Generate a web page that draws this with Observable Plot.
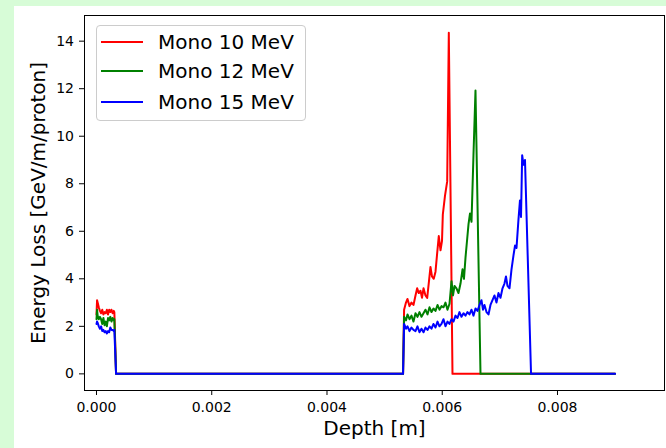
<!DOCTYPE html>
<html><head><meta charset="utf-8">
<script src="https://cdn.jsdelivr.net/npm/d3@7"></script>
<script src="https://cdn.jsdelivr.net/npm/@observablehq/plot@0.6"></script>
<style>
html,body{margin:0;padding:0;background:#d7fcd7;width:666px;height:448px;overflow:hidden;}
#panel{position:absolute;left:14px;top:6px;width:652px;height:442px;background:#fff;}
#chart{position:absolute;left:0;top:0;}
#legend{position:absolute;left:96px;top:25px;width:208px;height:94px;border:1px solid #cccccc;border-radius:4px;background:rgba(255,255,255,0.8);font-family:"DejaVu Sans";font-size:20px;color:#000;}
.row{position:absolute;left:0;height:20px;width:208px;}
.swatch{position:absolute;left:4px;top:9px;width:42px;height:2px;}
.lab{position:absolute;left:61px;top:0;white-space:nowrap;line-height:20px;}
</style></head><body>
<div id="panel"></div><div id="chart"></div><div id="legend"></div>
<script>
const names = ["Mono 10 MeV", "Mono 12 MeV", "Mono 15 MeV"];
const colors = ["#ff0000", "#008000", "#0000ff"];
const xTicks = [0, 0.002, 0.004, 0.006, 0.008];
const yTicks = [0, 2, 4, 6, 8, 10, 12, 14];
const xLabel = "Depth [m]";
const yLabel = "Energy Loss [GeV/m/proton]";

// entrance window region (shared depths)
const entryDepth = [0, 0.00001, 0.00002, 0.00004, 0.00006, 0.00008, 0.0001, 0.00012, 0.00014, 0.00016, 0.00018, 0.0002, 0.00022, 0.00024, 0.00026, 0.00028, 0.0003, 0.00031, 0.00034];
const entry10 = [2.5, 3.1, 3.0, 2.8, 2.65, 2.55, 2.7, 2.5, 2.6, 2.55, 2.7, 2.5, 2.7, 2.6, 2.7, 2.55, 2.65, 2.6, 0];
const entry12 = [2.3, 2.7, 2.45, 2.3, 2.4, 2.3, 2.1, 2.35, 2.05, 2.2, 2.0, 2.35, 2.25, 2.4, 2.2, 2.35, 2.25, 2.3, 0];
const entry15 = [2.1, 2.2, 2.15, 2.0, 1.9, 2.0, 1.8, 1.85, 1.75, 1.8, 1.7, 1.8, 1.75, 1.95, 1.85, 1.85, 1.8, 1.85, 0];

// Bragg region, Mono 10 MeV
const depth10 = [0.00532, 0.005338, 0.005371, 0.005397, 0.005432, 0.005466, 0.005501, 0.005536, 0.005565, 0.005593, 0.005623, 0.005649, 0.005675, 0.005709, 0.005739, 0.00577, 0.005796, 0.005822, 0.005853, 0.005883, 0.005909, 0.00594, 0.00597, 0.005996, 0.00601, 0.006048, 0.006086, 0.006114, 0.006178, 0.009];
const loss10 = [0, 2.7, 3.0, 3.15, 2.85, 3.0, 2.9, 3.3, 3.6, 3.4, 3.5, 3.2, 3.6, 3.3, 3.2, 3.9, 4.5, 4.1, 4.0, 4.3, 5.0, 5.8, 5.2, 5.6, 6.7, 7.5, 8.1, 14.35, 0, 0];

// Mono 12 MeV
const depth12 = [0.00532, 0.005338, 0.005371, 0.005397, 0.005432, 0.005466, 0.005501, 0.005536, 0.00557, 0.005605, 0.00564, 0.005675, 0.005709, 0.005744, 0.005779, 0.005814, 0.005848, 0.005883, 0.005918, 0.005952, 0.005987, 0.006022, 0.006056, 0.006091, 0.006126, 0.006161, 0.006187, 0.006213, 0.006247, 0.006282, 0.006317, 0.006352, 0.006377, 0.006404, 0.00643, 0.006456, 0.006482, 0.006508, 0.006542, 0.006577, 0.006664, 0.009];
const loss12 = [0, 2.4, 2.25, 2.5, 2.3, 2.45, 2.2, 2.55, 2.4, 2.6, 2.4, 2.55, 2.7, 2.5, 2.8, 2.6, 2.75, 2.65, 2.9, 2.7, 2.85, 2.8, 3.0, 2.7, 2.95, 3.9, 3.3, 3.7, 3.6, 3.4, 3.8, 4.4, 4.0, 4.9, 5.6, 6.3, 6.75, 6.4, 9.2, 11.92, 0, 0];

// Mono 15 MeV
const depth15 = [0.00532, 0.005338, 0.005371, 0.005397, 0.005432, 0.005466, 0.005501, 0.005536, 0.00557, 0.005605, 0.00564, 0.005675, 0.005709, 0.005744, 0.005779, 0.005814, 0.005848, 0.005883, 0.005918, 0.005952, 0.005987, 0.006022, 0.006056, 0.006091, 0.006126, 0.006161, 0.006195, 0.00623, 0.006265, 0.006299, 0.006334, 0.006369, 0.006404, 0.006438, 0.006473, 0.006508, 0.006542, 0.006577, 0.006612, 0.006647, 0.006681, 0.006707, 0.006733, 0.006768, 0.006803, 0.006837, 0.006872, 0.006907, 0.006941, 0.006976, 0.007011, 0.007046, 0.00708, 0.007106, 0.007132, 0.007167, 0.007202, 0.007237, 0.007263, 0.007289, 0.007323, 0.007349, 0.007367, 0.007387, 0.00741, 0.007436, 0.007541, 0.009];
const loss15 = [0, 2.1, 1.9, 2.0, 1.8, 1.95, 1.85, 1.8, 2.0, 1.75, 1.9, 1.75, 1.95, 1.85, 2.0, 1.9, 2.1, 1.95, 2.2, 2.0, 2.1, 2.3, 2.0, 2.2, 2.1, 2.3, 2.2, 2.45, 2.35, 2.6, 2.4, 2.55, 2.45, 2.6, 2.5, 2.7, 2.45, 2.75, 2.65, 2.9, 3.1, 2.7, 2.9, 2.6, 2.5, 2.9, 3.1, 3.3, 3.0, 3.4, 3.2, 3.6, 3.8, 4.1, 3.7, 3.6, 4.4, 5.0, 5.4, 5.3, 6.5, 7.3, 6.6, 9.2, 8.8, 9.0, 0, 0];

const rows = [];
function addSeries(name, depths, values) {
  depths.forEach((d, i) => rows.push({series: name, depth: d, loss: values[i]}));
}
addSeries(names[0], entryDepth.concat(depth10), entry10.concat(loss10));
addSeries(names[1], entryDepth.concat(depth12), entry12.concat(loss12));
addSeries(names[2], entryDepth.concat(depth15), entry15.concat(loss15));

const chart = Plot.plot({
  width: 666, height: 448,
  marginLeft: 84, marginRight: 2, marginTop: 15, marginBottom: 58,
  style: {background: "transparent", fontFamily: "DejaVu Sans", fontSize: "14px", color: "black", overflow: "visible"},
  x: {domain: [-0.000208, 0.009857]},
  y: {domain: [-0.70, 15.08]},
  color: {domain: names, range: colors},
  marks: [
    Plot.line(rows, {x: "depth", y: "loss", stroke: "series", z: "series", strokeWidth: 2, strokeLinejoin: "round"}),
    Plot.frame({stroke: "black", strokeWidth: 1}),
    Plot.axisX({ticks: xTicks, tickFormat: d3.format(".3f"), tickSize: 5, tickPadding: 7, label: null, fontSize: 14}),
    Plot.axisY({ticks: yTicks, tickFormat: d3.format("d"), tickSize: 5, tickPadding: 5.5, label: null, fontSize: 14}),
    Plot.text([xLabel], {text: d => d, frameAnchor: "bottom", dy: 38.3, textAnchor: "middle", lineAnchor: "middle", fontSize: 20}),
    Plot.text([yLabel], {text: d => d, frameAnchor: "left", dx: -45.7, rotate: -90, textAnchor: "middle", lineAnchor: "middle", fontSize: 20})
  ]
});
document.getElementById("chart").appendChild(chart);

const legend = document.getElementById("legend");
const rowCenters = [15.7, 45, 75.7];
names.forEach((n, i) => {
  const r = document.createElement("div");
  r.className = "row";
  r.style.top = (rowCenters[i] - 10) + "px";
  const s = document.createElement("div");
  s.className = "swatch";
  s.style.background = colors[i];
  const t = document.createElement("div");
  t.className = "lab";
  t.textContent = n;
  r.appendChild(s); r.appendChild(t);
  legend.appendChild(r);
});
</script></body></html>
